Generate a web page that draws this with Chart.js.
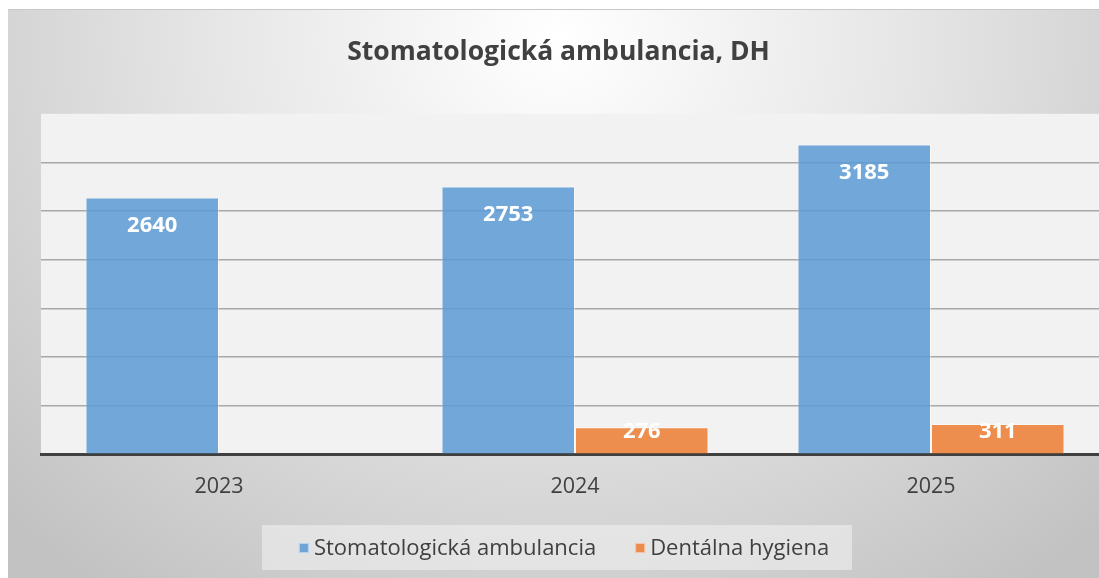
<!DOCTYPE html>
<html lang="sk">
<head>
  <meta charset="UTF-8" />
  <title>Stomatologická ambulancia, DH</title>
  <script src="https://cdn.jsdelivr.net/npm/chart.js"></script>
  <style>
    body {
      margin: 0;
      background: #ffffff;
      width: 1099px;
      height: 578px;
      overflow: hidden;
      position: relative;
    }
    .chart-box {
      position: absolute;
      left: 8px;
      top: 9px;
      width: 1102px;
      height: 570px;
      background: radial-gradient(ellipse 70% 120% at 50% 5%, #ffffff 0%, #e6e6e6 45%, #c2c2c2 100%);
      border-top: 1px solid #c8c8c8;
      box-sizing: border-box;
    }
    canvas { display: block; }
  </style>
</head>
<body>
  <div class="chart-box">
    <canvas id="chart" width="1102" height="569"></canvas>
  </div>

  <script>
    const years = ['2023', '2024', '2025'];
    const stomatologia = [2640, 2753, 3185];
    const hygiena = [null, 276, 311];
    const seriesNames = ['Stomatologická ambulancia', 'Dentálna hygiena'];

    const FONT = '"Open Sans", Lato, sans-serif';

    // svetle pozadie plochy grafu
    const plotBg = {
      id: 'plotBg',
      beforeDraw(chart) {
        const { ctx, chartArea: a } = chart;
        ctx.save();
        ctx.fillStyle = '#f2f2f2';
        ctx.fillRect(a.left, a.top, a.right - a.left, a.bottom - a.top);
        ctx.restore();
      }
    };

    // hodnoty v stlpcoch
    const barLabels = {
      id: 'barLabels',
      afterDatasetsDraw(chart) {
        const { ctx } = chart;
        ctx.save();
        ctx.font = 'bold 22px ' + FONT;
        ctx.fillStyle = '#ffffff';
        ctx.textAlign = 'center';
        ctx.textBaseline = 'middle';
        chart.data.datasets.forEach((ds, i) => {
          chart.getDatasetMeta(i).data.forEach((bar, j) => {
            const v = ds.data[j];
            if (v == null) return;
            const y = Math.min(bar.y + 28, bar.base - 22);
            ctx.fillText(String(v), bar.x, y);
          });
        });
        ctx.restore();
      }
    };

    // legenda so svetlym ramcekom
    const legendBox = {
      id: 'legendBox',
      afterDraw(chart) {
        const { ctx } = chart;
        const cx = chart.width / 2 - 2;
        const cy = 538;
        ctx.save();
        ctx.fillStyle = 'rgba(240,240,240,0.6)';
        ctx.fillRect(cx - 295, cy - 23, 590, 45);
        ctx.font = '22px ' + FONT;
        ctx.textBaseline = 'middle';
        const widths = seriesNames.map(n => ctx.measureText(n).width);
        const gap = 39, box = 10, tgap = 5;
        const total = widths.reduce((s, w) => s + box + tgap + w, 0) + gap;
        let x = cx - total / 2 + 7;
        chart.data.datasets.forEach((ds, i) => {
          ctx.fillStyle = ds.backgroundColor;
          ctx.fillRect(x, cy - 5, box, box);
          ctx.strokeStyle = 'rgba(255,255,255,0.5)';
          ctx.strokeRect(x + 0.5, cy - 4.5, box - 1, box - 1);
          ctx.fillStyle = '#404040';
          ctx.fillText(seriesNames[i], x + box + tgap, cy + 1);
          x += box + tgap + widths[i] + gap;
        });
        ctx.restore();
      }
    };

    new Chart(document.getElementById('chart'), {
      type: 'bar',
      data: {
        labels: years,
        datasets: [
          {
            label: seriesNames[0],
            data: stomatologia,
            backgroundColor: 'rgba(91,155,213,0.85)',
            borderColor: 'rgba(255,255,255,0.45)',
            borderWidth: 1
          },
          {
            label: seriesNames[1],
            data: hygiena,
            backgroundColor: 'rgba(237,125,49,0.85)',
            borderColor: 'rgba(255,255,255,0.45)',
            borderWidth: 1
          }
        ]
      },
      options: {
        responsive: false,
        animation: false,
        categoryPercentage: 0.75,
        barPercentage: 1.0,
        layout: { padding: { left: 0, right: 1, top: 0, bottom: 59 } },
        plugins: {
          legend: { display: false },
          tooltip: { enabled: false },
          title: {
            display: true,
            text: 'Stomatologická ambulancia, DH',
            color: '#404040',
            font: { family: FONT, size: 26.5, weight: 'bold' },
            padding: { top: 27, bottom: 45 }
          }
        },
        scales: {
          x: {
            grid: { display: false, drawTicks: false },
            border: { display: true, color: '#404040', width: 3 },
            ticks: { color: '#404040', font: { family: FONT, size: 21.5 }, padding: 20 }
          },
          y: {
            min: 0,
            max: 3500,
            afterFit: s => { s.width = 33; },
            ticks: { display: false, stepSize: 500 },
            border: { display: false },
            grid: {
              drawTicks: false,
              lineWidth: 1.5,
              color: c => (c.tick.value === 0 || c.tick.value === 3500) ? 'rgba(0,0,0,0)' : '#a8a8a8'
            }
          }
        }
      },
      plugins: [plotBg, barLabels, legendBox]
    });
  </script>
</body>
</html>
